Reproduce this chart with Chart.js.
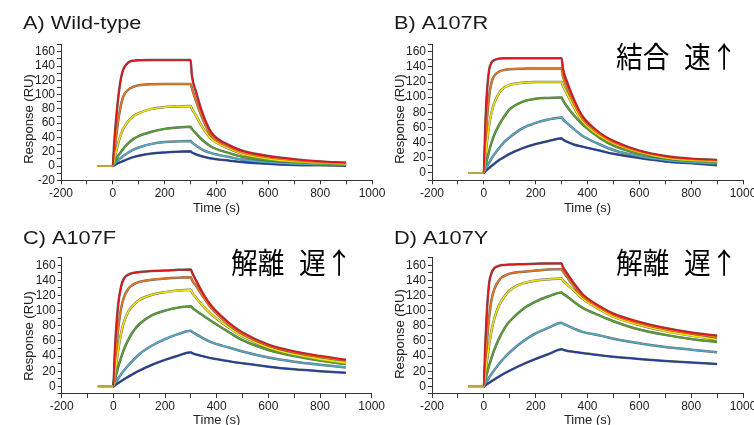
<!DOCTYPE html>
<html>
<head>
<meta charset="utf-8">
<script src="https://cdn.jsdelivr.net/npm/chart.js@4.4.0/dist/chart.umd.min.js"></script>
<style>
html, body { margin: 0; padding: 0; background: #fff; width: 754px; height: 425px; overflow: hidden; }
body { position: relative; }
canvas { position: absolute; }
</style>
</head>
<body>
<canvas id="chartA" width="400" height="216" style="left:0;top:0;width:400px;height:216px"></canvas>
<canvas id="chartB" width="400" height="216" style="left:377px;top:0;width:400px;height:216px"></canvas>
<canvas id="chartC" width="400" height="216" style="left:0;top:212px;width:400px;height:216px"></canvas>
<canvas id="chartD" width="400" height="216" style="left:377px;top:212px;width:400px;height:216px"></canvas>
<script>
// sampling times (s)
const times = [-60, 0, 5, 10, 20, 30, 40, 60, 80, 100, 150, 200, 250, 300, 305, 320, 350, 380, 450, 500, 600, 700, 800, 900];

// A) Wild-type
const aRed    = [0, 0, 30, 55, 93, 120, 135, 145, 147.5, 148, 148.5, 148.5, 148.5, 148.5, 127, 105, 70, 47, 29, 21.5, 14, 9.5, 6.5, 4.7];
const aOrange = [0, 0, 18, 33, 62, 83, 97, 107, 111, 113, 114.5, 115, 115, 115, 109, 92, 63, 42, 26, 18.5, 11.5, 7.5, 5, 3.5];
const aYellow = [0, 0, 8, 16, 31, 43, 52, 63, 70, 74, 80, 82.5, 83.5, 84, 80, 71, 52, 38, 24, 17, 10, 6.5, 4.5, 3];
const aGreen  = [0, 0, 4, 7.5, 14, 19, 24, 32, 38, 42, 48, 52, 54, 55, 52, 46, 35, 27, 18, 13, 8, 5, 3, 2];
const aTeal   = [0, 0, 2, 4, 8, 11, 14, 19, 23, 26, 31, 33.5, 34.5, 35, 33, 29, 22, 18, 12.5, 9, 5, 3, 2, 1.5];
const aBlue   = [0, 0, 1, 2, 4, 5.5, 7, 10, 12.5, 14.5, 17.5, 19, 20, 20.5, 19, 16.5, 13, 10.5, 7.5, 5.5, 3, 1.5, 1, 0.5];

// B) A107R
const bRed    = [0, 0, 55, 95, 135, 146, 149, 151, 151.5, 151.5, 151.5, 151.5, 151.5, 151.5, 138, 121, 95, 75, 52, 42, 29, 22, 18.5, 17];
const bOrange = [0, 0, 35, 62, 100, 120, 128, 134, 136, 137, 137.5, 138, 138, 138, 128, 113, 90, 71, 50, 40, 28, 21, 17.5, 16];
const bYellow = [0, 0, 18, 34, 62, 80, 92, 106, 113, 116, 119, 120, 120, 120, 115, 105, 85, 68, 48, 38.5, 27, 20, 16.5, 15];
const bGreen  = [0, 0, 7, 14, 28, 40, 50, 64, 75, 84, 94, 98, 99, 99.5, 96, 88, 75, 64, 45.5, 36, 25, 19, 15.5, 13];
const bTeal   = [0, 0, 3.5, 6.9, 13, 19, 24, 33, 41, 47, 59, 66, 70.5, 73, 71, 66, 57, 49, 37, 30, 21.5, 16.5, 13.5, 12];
const bBlue   = [0, 0, 1.6, 3.2, 6.2, 9.1, 11.8, 17, 21, 25, 32.5, 38, 42, 45.5, 44, 41, 37, 34.5, 29, 25, 19.5, 15, 12.5, 10];

// C) A107F
const cRed    = [0, 0, 40, 72, 112, 132, 142, 148, 150, 151, 152.5, 153, 154, 154.5, 150, 140, 121, 106, 83, 71, 55, 46, 40, 35];
const cOrange = [0, 0, 25, 46, 80, 103, 117, 130, 135, 138, 141, 142.5, 143.5, 144, 140, 133, 117, 103, 81, 69.5, 54, 45, 38.5, 34];
const cYellow = [0, 0, 14, 27, 51, 70, 84, 100, 108, 114, 121, 124.5, 126.5, 127.5, 124, 117, 105, 95, 77, 66, 51, 42, 36, 31];
const cGreen  = [0, 0, 7, 14, 27, 38, 48, 63, 74, 82, 94, 100, 104, 106, 104, 100, 93, 86, 71, 61, 48, 40, 34, 29.5];
const cTeal   = [0, 0, 2.9, 5.7, 11, 16, 20.5, 28.5, 35.5, 42.5, 54, 62.5, 69, 73.5, 72, 69, 63, 58, 51, 46, 38, 32.5, 28.5, 25];
const cBlue   = [0, 0, 1.2, 2.4, 4.6, 6.9, 9.1, 13.2, 17, 20.7, 28.5, 35, 40.5, 45, 44, 42, 39.5, 37, 33, 30.5, 26, 22.5, 20, 18];

// D) A107Y
const dRed    = [0, 0, 50, 88, 135, 150, 156, 159.5, 160.5, 161, 161.5, 162, 162.5, 162.5, 158, 150, 135, 122, 105, 96, 85, 77, 71, 67];
const dOrange = [0, 0, 28, 52, 90, 115, 128, 141, 146, 149, 151.5, 153, 154.5, 155, 152, 145, 131, 119, 103, 94, 83, 75, 69.5, 65];
const dYellow = [0, 0, 14, 28, 54, 74, 89, 108, 119, 127, 136, 140, 141.5, 142.5, 140, 135, 126, 116, 101, 92, 81, 73, 67, 62];
const dGreen  = [0, 0, 7, 14, 27, 38, 48, 64, 77, 86, 102, 112, 119, 124, 122.5, 119, 111, 104, 93, 86, 75, 68, 62.5, 58.5];
const dTeal   = [0, 0, 3, 5.8, 11.3, 16.5, 21.3, 30.2, 38.1, 45.1, 59.3, 69.9, 77.7, 84, 83, 80.5, 76, 72, 67, 63, 57, 52, 48.5, 45];
const dBlue   = [0, 0, 1.2, 2.3, 4.6, 6.8, 9, 13.2, 17.3, 20.9, 29, 36.2, 42.7, 49, 48.5, 47, 45.5, 44, 41, 39, 36, 33.5, 31.5, 29.5];

const curveColors = ['#e3141c', '#e8761e', '#f2e40a', '#55a22e', '#52abc6', '#1f3f9c'];

const fontNarrow = '"Liberation Sans Narrow", "Liberation Sans", Arial, sans-serif';
const tickFont = { family: fontNarrow, size: 12 };
const axisColor = '#333';

// labels and annotations drawn on each panel
const panelText = {
    id: 'panelText',
    afterDraw(chart, args, opts) {
        const ctx = chart.ctx;
        ctx.save();
        ctx.fillStyle = '#1a1a1a';
        ctx.textBaseline = 'alphabetic';
        ctx.textAlign = 'left';
        ctx.font = '18.6px "Liberation Sans", Arial, sans-serif';
        ctx.translate(opts.titleX, opts.titleY);
        ctx.scale(1.17, 1);
        ctx.fillText(opts.title, 0, 0);
        ctx.restore();

        // y axis title
        ctx.save();
        ctx.fillStyle = '#222';
        ctx.font = '13px ' + fontNarrow;
        ctx.textAlign = 'center';
        ctx.textBaseline = 'middle';
        ctx.translate(opts.yTitleX, opts.yTitleY);
        ctx.rotate(-Math.PI / 2);
        ctx.fillText('Response (RU)', 0, 0);
        ctx.restore();

        if (opts.note) {
            ctx.save();
            ctx.fillStyle = '#000';
            ctx.font = '29px "Noto Sans CJK JP", sans-serif';
            ctx.textBaseline = 'middle';
            ctx.translate(opts.noteX, opts.noteY);
            ctx.scale(0.92, 1);
            const words = opts.note.split(' ');
            let x = 0;
            words.forEach(function(w) {
                ctx.fillText(w, x, 0);
                x += ctx.measureText(w).width + 16;
            });
            ctx.restore();
        }
    }
};

function makeDatasets(series) {
    const sets = [];
    series.forEach(function(vals, i) {
        const pts = times.map(function(t, j) { return { x: t, y: vals[j] }; });
        // fitted curve (thin dark line under the data)
        sets.push({
            data: pts,
            borderColor: 'rgba(35,35,35,0.7)',
            borderWidth: 2.5,
            pointRadius: 0,
            cubicInterpolationMode: 'monotone',
            order: 20,
            segment: {
                borderColor: function(c) { return c.p1.parsed.x <= 0 ? 'rgba(0,0,0,0)' : undefined; }
            }
        });
        sets.push({
            data: pts,
            borderColor: curveColors[i],
            borderWidth: 1.6,
            pointRadius: 0,
            cubicInterpolationMode: 'monotone',
            order: i + 1,
            segment: {
                borderColor: function(c) { return c.p1.parsed.x <= 0 ? '#b9a634' : undefined; }
            }
        });
    });
    return sets;
}

function makeConfig(series, yMin, pad, xHeight, text) {
    return {
        type: 'line',
        data: { datasets: makeDatasets(series) },
        options: {
            responsive: false,
            animation: false,
            layout: { padding: pad },
            plugins: {
                legend: { display: false },
                tooltip: { enabled: false },
                panelText: text
            },
            scales: {
                x: {
                    type: 'linear',
                    min: -200,
                    max: 1000,
                    afterFit: function(s) { s.height = xHeight; },
                    ticks: {
                        stepSize: 100,
                        autoSkip: false,
                        maxRotation: 0,
                        padding: 2,
                        font: tickFont,
                        color: '#222',
                        callback: function(v) { return v % 200 === 0 ? v : ''; }
                    },
                    grid: { drawOnChartArea: false, tickLength: 4, color: axisColor },
                    border: { color: axisColor, width: 1 },
                    title: { display: true, text: 'Time (s)', font: { family: fontNarrow, size: 13 }, color: '#222', padding: { top: 0, bottom: 0 } }
                },
                y: {
                    min: yMin,
                    max: 170,
                    afterFit: function(s) { s.width = 44; },
                    ticks: {
                        stepSize: 10,
                        autoSkip: false,
                        padding: 2,
                        font: tickFont,
                        color: '#222',
                        callback: function(v) { return v % 20 === 0 ? v : ''; }
                    },
                    grid: { drawOnChartArea: false, tickLength: 4, color: axisColor },
                    border: { color: axisColor, width: 1 }
                }
            }
        },
        plugins: [panelText]
    };
}

new Chart(document.getElementById('chartA'), makeConfig(
    [aRed, aOrange, aYellow, aGreen, aTeal, aBlue], -20,
    { left: 17, right: 28, top: 44.6, bottom: 0 }, 35.7,
    { title: 'A) Wild-type', titleX: 23, titleY: 28.5, yTitleX: 29, yTitleY: 119 }));

new Chart(document.getElementById('chartB'), makeConfig(
    [bRed, bOrange, bYellow, bGreen, bTeal, bBlue], -10,
    { left: 11, right: 34, top: 44.2, bottom: 0 }, 35.7,
    { title: 'B) A107R', titleX: 17, titleY: 29, yTitleX: 23, yTitleY: 119, note: '結合 速↑', noteX: 239, noteY: 57 }));

new Chart(document.getElementById('chartC'), makeConfig(
    [cRed, cOrange, cYellow, cGreen, cTeal, cBlue], -10,
    { left: 17.7, right: 28.3, top: 45.7, bottom: 0 }, 34.1,
    { title: 'C) A107F', titleX: 23, titleY: 31.5, yTitleX: 29, yTitleY: 124, note: '解離 遅↑', noteX: 231, noteY: 51 }));

new Chart(document.getElementById('chartD'), makeConfig(
    [dRed, dOrange, dYellow, dGreen, dTeal, dBlue], -10,
    { left: 11, right: 34, top: 45.7, bottom: 0 }, 34.1,
    { title: 'D) A107Y', titleX: 17, titleY: 31.5, yTitleX: 23, yTitleY: 122, note: '解離 遅↑', noteX: 239, noteY: 51 }));
</script>
</body>
</html>
